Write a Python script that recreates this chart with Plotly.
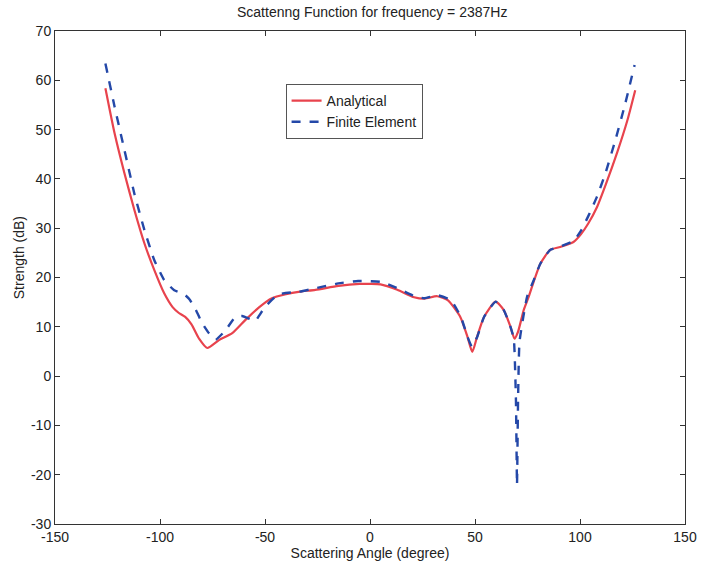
import plotly.graph_objects as go

# Analytical (red, solid)
ana_x = [-126, -121.6, -116.9, -112.2, -107.4, -102.7, -98, -94, -91, -88, -85, -81.4,
         -77.5, -71.9, -65.6, -59.3, -53, -46.7, -40, -34, -26, -15, -5, 0, 5, 13,
         21, 26, 32, 37, 43, 46.4, 48.7, 51, 54.3, 59.8, 63.7, 66.9, 68.8, 70.5, 73.2, 75.5,
         78, 81.1, 85.8, 90.6, 96.9, 100.5, 104, 108, 112.2, 117.8, 122.5, 126.3]
ana_y = [58.4, 49.2, 41.1, 33.7, 26.9, 21.5, 16.8, 14.0, 12.8, 12.0, 10.5, 7.6,
         5.7, 7.3, 8.7, 11.4, 13.9, 15.8, 16.6, 17.1, 17.5, 18.3, 18.7, 18.7, 18.6, 17.5,
         16.0, 15.7, 16.2, 15.4, 12.0, 8.0, 4.9, 8.0, 12.0, 15.1, 13.4, 10.0, 7.6, 9.0, 13.4, 16.0,
         19.2, 22.8, 25.6, 26.2, 27.2, 28.8, 31.0, 34.2, 38.8, 45.5, 51.8, 58.0]

# Finite Element (blue, dashed)
fe_x = [-126, -121.6, -116.9, -112.2, -107.4, -102.7, -98, -93.2, -88.5, -86, -83, -80,
        -76.7, -73.5, -68.8, -64.1, -60.9, -56.2, -54.6, -49.9, -43.5, -34, -26.2, -15.1,
        -5.7, 5.3, 13.3, 21.2, 25.9, 32.2, 38.5, 43.3, 46.4, 48.5, 51.1, 54.3, 59.8, 63.7,
        66.9, 68.5, 69.5, 70.0, 70.5, 71.2, 74.8, 78, 81.1, 85.8, 90.6, 96.9, 100.5, 104,
        108, 112, 116.8, 121.5, 126]
fe_y = [63.4, 54.6, 45.8, 37.0, 29.6, 23.5, 19.5, 17.4, 16.6, 15.6, 13.5, 10.8,
        8.7, 7.4, 9.3, 12.0, 12.2, 11.4, 11.2, 14.1, 16.6, 17.1, 17.8, 18.8,
        19.3, 19.1, 17.8, 16.2, 15.8, 16.4, 15.4, 12.0, 8.0, 6.0, 8.0, 12.0, 15.1, 13.4,
        10.0, 7.5, -5.0, -22.1, -5.0, 7.0, 16.1, 19.5, 22.8, 25.6, 26.3, 27.4, 29.5, 32.5,
        36.3, 41.0, 47.8, 55.2, 63.1]

x_ticks = [-150, -100, -50, 0, 50, 100, 150]
x_labels = ["-150", "-100", "-50", "0", "50", "100", "150"]
y_ticks = [-30, -20, -10, 0, 10, 20, 30, 40, 50, 60, 70]
y_labels = ["-30", "-20", "-10", "0", "10", "20", "30", "40", "50", "60", "70"]

FONT = "Liberation Sans, Arial, sans-serif"

fig = go.Figure()
fig.add_trace(go.Scatter(x=ana_x, y=ana_y, mode="lines", name="Analytical",
                         line=dict(color="#e8434d", width=2.2, shape="spline", smoothing=0.6)))
fig.add_trace(go.Scatter(x=fe_x, y=fe_y, mode="lines", name="Finite Element",
                         line=dict(color="#2448a8", width=2.4, dash="dash", shape="spline", smoothing=0.4)))

axis_common = dict(showline=True, linecolor="#333", linewidth=1, mirror="ticks",
                   ticks="inside", ticklen=5, tickcolor="#333", showgrid=False, zeroline=False,
                   tickfont=dict(family=FONT, size=14, color="#222"))

fig.update_layout(
    width=709, height=569,
    margin=dict(l=55, r=20, t=31, b=45),
    paper_bgcolor="white", plot_bgcolor="white",
    title=dict(text="Scattenng Function for frequency = 2387Hz", x=0.525, xanchor="center",
               y=0.978, yanchor="middle",
               font=dict(family=FONT, size=14, color="#222")),
    xaxis=dict(range=[-150, 150], tickvals=x_ticks, ticktext=x_labels,
               title=dict(text="Scattering Angle (degree)", standoff=1,
                          font=dict(family=FONT, size=14, color="#222")),
               **axis_common),
    yaxis=dict(range=[-30, 70], tickvals=y_ticks, ticktext=y_labels, **axis_common),
    annotations=[dict(text="Strength (dB)", xref="paper", yref="paper",
                      x=-0.058, y=0.54, xanchor="center", yanchor="middle",
                      textangle=-90, showarrow=False,
                      font=dict(family=FONT, size=14, color="#222"))],
    legend=dict(x=0.366, y=0.8925, xanchor="left", yanchor="top",
                bordercolor="#555", borderwidth=1, bgcolor="white",
                font=dict(family=FONT, size=14, color="#222"),
                tracegroupgap=0, itemwidth=30),
    showlegend=True,
)

fig.write_html("out.html")
